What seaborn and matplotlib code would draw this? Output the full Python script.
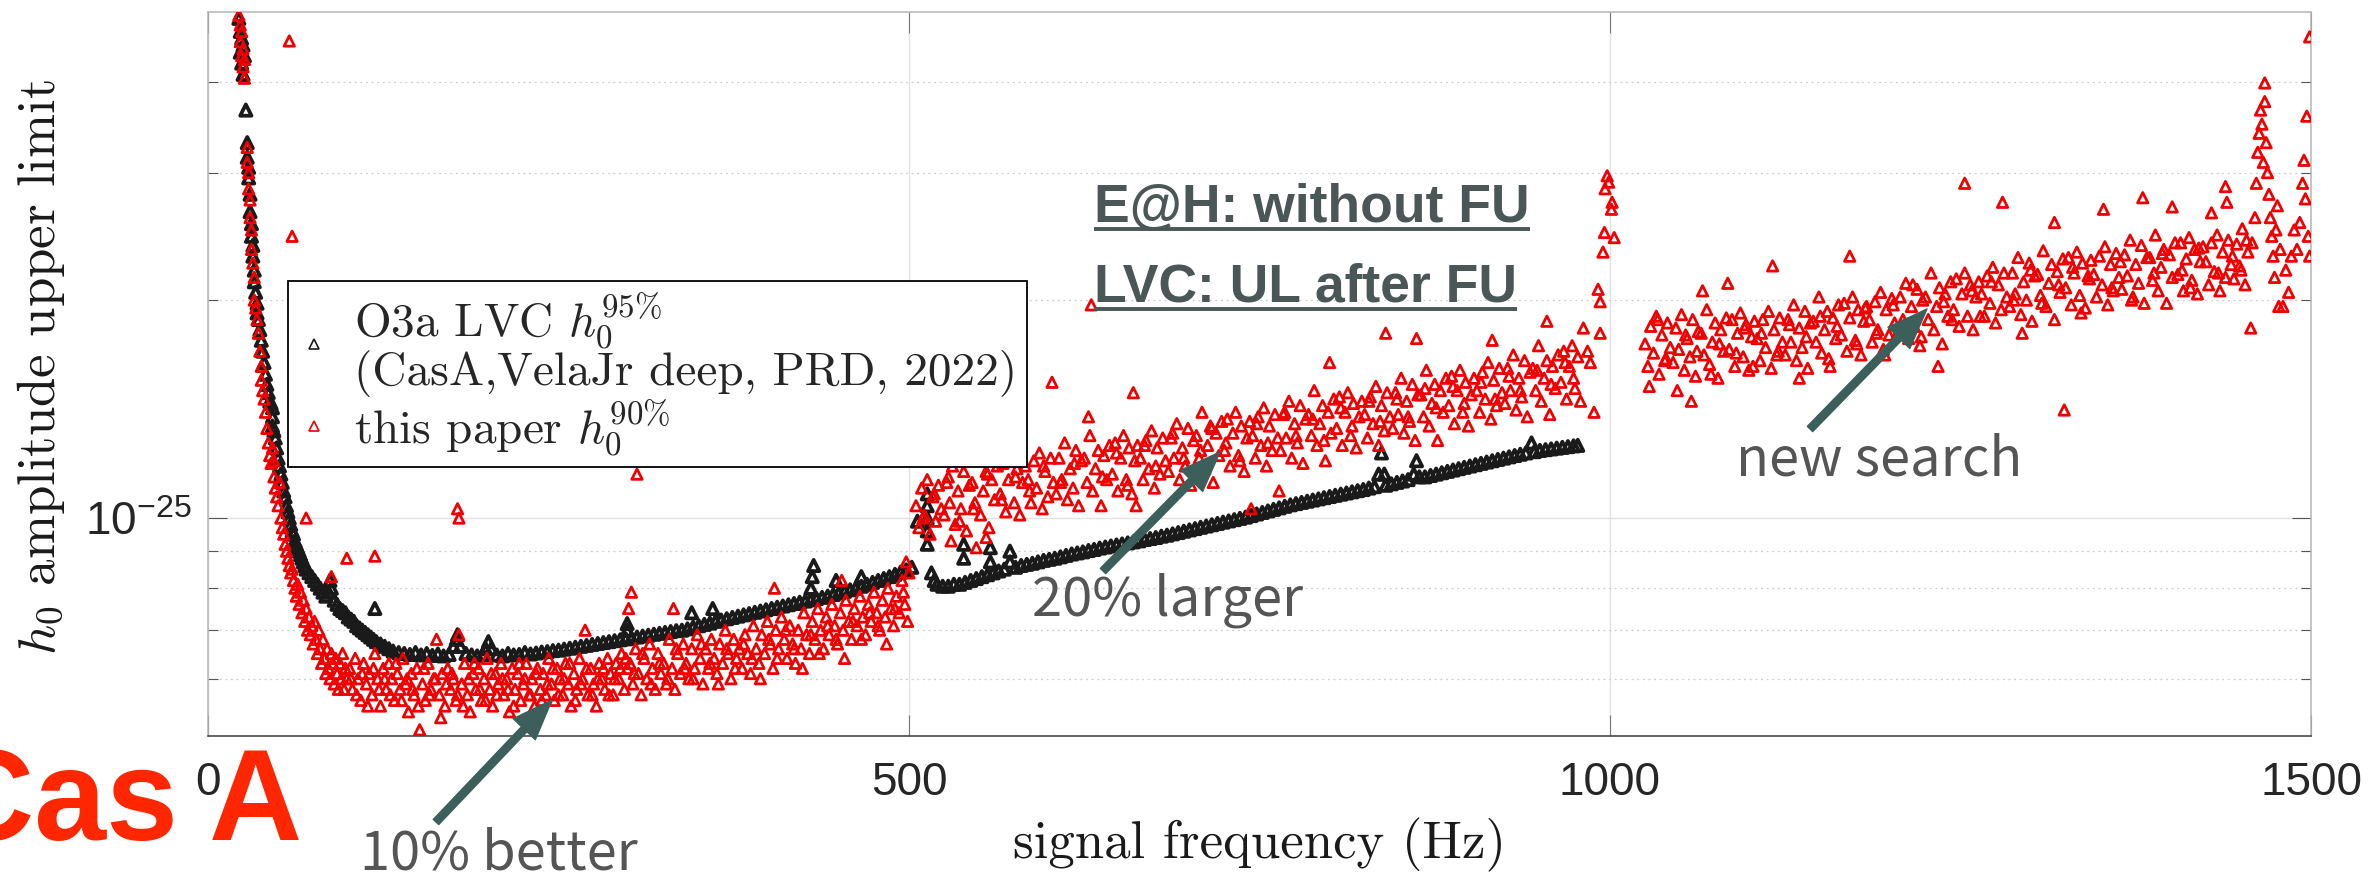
import matplotlib
matplotlib.use("Agg")
import matplotlib.pyplot as plt
import matplotlib.ticker as mticker
from matplotlib.lines import Line2D
import pandas as pd
import seaborn as sns

# ---------------- data (h0 in units of 1e-25, frequency in Hz) ----------------
# O3a LVC h0^95% (black triangles)
lvc_steep = [(22,4.9),(23,4.7),(23,4.4),(24,4.6),(24,4.25),(25,4.5),(25,4.1),(26,4.35),(27,3.66),(28,3.3),(28,3.15),
    (29,3.05),(29,2.95),(30,2.8),(30,2.65),(31,2.55),(31,2.45),(32,2.38),(32,2.3),(33,2.2),(33,2.12),(34,2.05),(35,1.98),
    (35,1.92),(36,1.88),(37,1.82),(38,1.76),(39,1.7),(40,1.64),(41,1.58),(42,1.53),(43,1.49),(44,1.45),(45,1.44),(46,1.42),
    (46,1.38),(46,1.34),(47,1.32),(48,1.29),(49,1.25),(50,1.21),(51,1.18),(52,1.15),(53,1.12),(54,1.09),(55,1.07),(56,1.04),
    (57,1.02),(58,1.0),(59,0.98),(60,0.96),(61,0.95),(62,0.93),(63,0.92),(64,0.91),(65,0.9),(66,0.89),(67,0.88),(68,0.87),
    (69,0.86),(70,0.85),(72,0.84),(74,0.83),(76,0.82),(78,0.81),(80,0.80),(82,0.79),(84,0.78),(86,0.79),(87,0.82),(88,0.8),
    (90,0.77),(92,0.76),(94,0.75),(96,0.745),(98,0.74),(100,0.73),(102,0.725),(104,0.72),(106,0.71),(108,0.705),(110,0.70),
    (112,0.695),(114,0.69),(116,0.685),(118,0.68),(119,0.75),(120,0.675),(123,0.67),(126,0.665),(129,0.66)]
lvc_flat = [(132,0.655),(136,0.652),(140,0.65),(144,0.648),(148,0.652),(152,0.647),(156,0.65),(160,0.646),(164,0.649),
    (168,0.645),(172,0.648),(175,0.665),(177,0.68),(178,0.69),(180,0.665),(184,0.65),(188,0.647),(192,0.645),(196,0.648),
    (198,0.66),(200,0.675),(202,0.66),(206,0.647),(210,0.645),(214,0.65),(218,0.647),(222,0.648),(226,0.652),(230,0.649),
    (234,0.651),(238,0.653),(242,0.654),(246,0.656),(250,0.657),(254,0.659),(258,0.661),(262,0.663),(266,0.665),(270,0.667),
    (274,0.669),(278,0.671),(282,0.673),(286,0.675),(290,0.677),(294,0.679),(298,0.681),(299,0.70),(299,0.715),(302,0.683),
    (306,0.685),(310,0.687),(314,0.689),(318,0.691),(322,0.693),(326,0.695),(330,0.697),(334,0.699),(338,0.70),(342,0.703),
    (345,0.74),(346,0.707),(350,0.71),(354,0.713),(358,0.716),(360,0.75),(362,0.72),(366,0.723),(370,0.726),(374,0.729),
    (378,0.732),(382,0.735),(386,0.738),(390,0.741),(394,0.744),(398,0.747),(402,0.75),(406,0.753),(410,0.756),(414,0.759),
    (418,0.762),(422,0.765),(426,0.768),(430,0.80),(431,0.83),(432,0.86),(430,0.771),(434,0.774),(438,0.777),(442,0.78),
    (446,0.784),(448,0.82),(450,0.788),(454,0.792),(458,0.796),(462,0.80),(466,0.83),(466,0.805),(470,0.81),(474,0.815),
    (478,0.82),(482,0.825),(486,0.83),(490,0.836),(494,0.842),(498,0.848),(502,0.855),(506,0.99),(513,1.08),(513,1.04),
    (513,1.0),(513,0.96),(513,0.92)]
lvc_high = [(516,0.84),(518,0.82),(520,0.81),(524,0.805),(528,0.805),(532,0.81),(536,0.81),(539,0.88),(539,0.92),(540,0.815),
    (544,0.82),(548,0.825),(552,0.83),(556,0.835),(558,0.87),(558,0.91),(560,0.84),(564,0.845),(568,0.85),(572,0.87),(572,0.90),
    (576,0.855),(580,0.86),(584,0.863),(588,0.866),(592,0.87),(596,0.874),(600,0.877),(604,0.88),(608,0.884),(612,0.888),
    (616,0.892),(620,0.895),(624,0.898),(628,0.902),(632,0.905),(636,0.909),(640,0.912),(644,0.915),(648,0.918),(652,0.921),
    (656,0.924),(660,0.927),(664,0.93),(668,0.934),(672,0.937),(676,0.94),(680,0.944),(684,0.947),(688,0.951),(692,0.955),
    (696,0.959),(700,0.963),(704,0.967),(708,0.971),(712,0.975),(716,0.979),(720,0.983),(724,0.987),(728,0.991),(732,0.995),
    (736,0.999),(740,1.003),(744,1.008),(748,1.013),(752,1.018),(756,1.023),(760,1.028),(764,1.033),(768,1.038),(772,1.043),
    (776,1.047),(780,1.051),(784,1.055),(788,1.059),(792,1.063),(796,1.067),(800,1.071),(804,1.075),(808,1.079),(812,1.083),
    (816,1.087),(820,1.091),(824,1.095),(828,1.1),(832,1.105),(835,1.15),(837,1.23),(839,1.15),(840,1.11),(844,1.115),
    (848,1.12),(852,1.125),(856,1.13),(860,1.15),(862,1.2),(864,1.14),(868,1.14),(872,1.145),(876,1.15),(880,1.155),
    (884,1.16),(888,1.165),(892,1.17),(896,1.175),(900,1.18),(904,1.185),(908,1.19),(912,1.195),(916,1.2),(920,1.205),
    (924,1.21),(928,1.215),(932,1.22),(936,1.225),(940,1.23),(944,1.27),(946,1.235),(950,1.24),(954,1.243),(958,1.246),
    (962,1.249),(966,1.252),(970,1.255),(974,1.258),(977,1.26)]

# this paper h0^90% (red triangles)
ours_steep = [(22,4.95),(23,4.8),(23,4.55),(24,4.7),(24,4.35),(25,4.45),(25,4.2),(26,4.3),(26,4.05),(28,3.25),(28,3.1),
    (29,3.0),(29,2.85),(30,2.75),(30,2.6),(31,2.5),(31,2.35),(32,2.25),(33,2.15),(33,2.0),(34,1.95),(35,1.88),(36,1.8),
    (37,1.7),(38,1.62),(38,1.55),(39,1.5),(40,1.46),(41,1.4),(42,1.33),(43,1.27),(44,1.22),(45,1.19),(46,1.25),(47,1.2),
    (47,1.14),(48,1.1),(49,1.07),(50,1.04),(51,1.12),(52,1.0),(53,0.97),(54,0.95),(55,0.92),(56,0.9),(57,0.88),(58,4.56),
    (58,0.86),(59,0.84),(60,2.45),(60,0.85),(61,0.82),(62,0.8),(63,0.78),(64,0.81),(65,0.76),(66,0.79),(67,0.74),(68,0.77),
    (69,0.72),(70,1.0),(70,0.75),(71,0.7),(72,0.73),(73,0.69),(74,0.71),(75,0.67),(76,0.72),(77,0.68),(78,0.65),(79,0.7),
    (80,0.66),(81,0.63),(82,0.68),(83,0.64),(84,0.61),(85,0.66),(86,0.62),(87,0.6),(88,0.83),(88,0.65),(89,0.63),(90,0.59),
    (91,0.64),(92,0.61),(93,0.58),(94,0.63),(95,0.6),(96,0.65),(97,0.58),(98,0.62),(99,0.88),(99,0.6)]
ours_low = [(101,.62),(103,.58),(105,.64),(107,.60),(109,.56),(111,.63),(113,.59),(115,.61),(117,.57),(119,.65),
    (121,.60),(123,.55),(125,.62),(127,.58),(129,.63),(131,.60),(133,.56),(135,.61),(137,.58),(139,.64),
    (141,.59),(143,.54),(145,.61),(147,.57),(149,.62),(151,.51),(153,.59),(155,.56),(157,.63),(159,.58),
    (161,.60),(163,.68),(165,.57),(167,.61),(169,.55),(171,.62),(173,.58),(175,.60),(177,.56),(179,.69),
    (181,.59),(183,.63),(185,.57),(187,.54),(189,.61),(191,.58),(193,.62),(195,.56),(197,.60),(199,.64),
    (201,.58),(203,.55),(205,.61),(207,.59),(209,.63),(211,.57),(213,.60),(215,.54),(217,.62),(219,.58),
    (221,.61),(223,.56),(225,.59),(227,.63),(229,.57),(231,.60),(233,.55),(235,.62),(237,.58),(239,.61),
    (241,.57),(243,.64),(245,.59),(247,.56),(249,.62),(251,.60),(253,.57),(255,.63),(257,.59),(259,.55),
    (261,.61),(263,.58),(265,.64),(267,.60),(269,.70),(271,.57),(273,.62),(275,.59),(277,.55),(279,.63),
    (281,.60),(283,.58),(285,.64),(287,.61),(289,.57),(291,.63),(293,.60),(295,.65),(297,.58),(299,.62),
    (102,.60),(106,.57),(110,.61),(114,.55),(118,.62),(122,.58),(126,.60),(130,.57),(134,.63),(138,.56),
    (142,.60),(146,.58),(150,.55),(154,.62),(158,.57),(162,.60),(166,.53),(170,.59),(174,.61),(178,.57),
    (182,.55),(186,.60),(190,.63),(194,.58),(198,.56),(202,.61),(206,.57),(210,.60),(214,.58),(218,.55),
    (222,.63),(226,.60),(230,.57),(234,.61),(238,.56),(242,.59),(246,.62),(250,.57),(254,.60),(258,.63),
    (262,.56),(266,.59),(270,.62),(274,.57),(278,.60),(282,.62),(286,.57),(290,.60),(294,.62),(298,.64),
    (119,.886),(178,1.03),(179,1.0),(306,1.15),(302,.79),(300,.75)]
ours_mid = [(301,.63),(303,.59),(305,.66),(307,.61),(309,.57),(311,.64),(313,.60),(315,.67),(317,.62),(319,.58),
    (321,.65),(323,.61),(325,.63),(327,.59),(329,.68),(331,.62),(333,.58),(335,.65),(337,.61),(339,.67),
    (341,.63),(343,.60),(345,.66),(347,.62),(349,.69),(351,.64),(353,.59),(355,.66),(357,.62),(359,.68),
    (361,.64),(363,.61),(365,.67),(367,.63),(369,.70),(371,.65),(373,.60),(375,.68),(377,.64),(379,.66),
    (381,.62),(383,.69),(385,.65),(387,.61),(389,.71),(391,.66),(393,.63),(395,.69),(397,.65),(399,.72),
    (401,.67),(403,.62),(405,.70),(407,.66),(409,.73),(411,.68),(413,.64),(415,.71),(417,.67),(419,.63),
    (421,.70),(423,.66),(425,.74),(427,.69),(429,.65),(431,.72),(433,.68),(435,.75),(437,.70),(439,.66),
    (441,.73),(443,.69),(445,.76),(447,.71),(449,.67),(451,.74),(453,.70),(455,.77),(457,.72),(459,.68),
    (461,.75),(463,.71),(465,.78),(467,.73),(469,.69),(471,.76),(473,.72),(475,.79),(477,.74),(479,.70),
    (481,.77),(483,.73),(485,.80),(487,.75),(489,.71),(491,.78),(493,.74),(495,.82),(497,.76),(499,.72),
    (304,.61),(310,.65),(316,.59),(322,.63),(328,.60),(334,.66),(340,.62),(346,.60),(352,.67),(358,.63),
    (364,.59),(370,.66),(376,.62),(382,.67),(388,.64),(394,.60),(400,.68),(406,.64),(412,.70),(418,.66),
    (424,.62),(430,.69),(436,.65),(442,.71),(448,.68),(454,.64),(460,.72),(466,.68),(472,.74),(478,.71),
    (484,.67),(490,.75),(496,.79),(500,.84),(498,.87),(332,.75),(404,.80),(452,.82)]
ours_high = [(505,1.04),(507,0.97),(509,1.10),(511,1.01),(513,1.13),(515,0.95),(517,1.07),(519,0.99),(521,1.11),(523,1.03),
    (525,1.01),(527,1.12),(529,1.05),(531,1.18),(533,0.98),(535,1.09),(537,1.03),(539,1.16),(541,0.96),(543,1.11),
    (545,1.12),(547,1.05),(549,1.21),(551,1.01),(553,1.09),(555,1.16),(557,0.97),(559,1.13),(561,1.06),(563,1.18),
    (565,1.08),(567,1.19),(569,1.02),(571,1.13),(573,1.21),(575,1.05),(577,1.17),(579,1.01),(581,1.12),(583,1.18),
    (585,1.13),(587,1.05),(589,1.20),(591,1.10),(593,1.23),(595,1.03),(597,1.16),(599,1.07),(601,1.21),(603,1.12),
    (605,1.08),(607,1.21),(609,1.13),(611,1.27),(613,1.06),(615,1.17),(617,1.10),(619,1.24),(621,1.04),(623,1.20),
    (625,1.21),(627,1.12),(629,1.30),(631,1.09),(633,1.17),(635,1.24),(637,1.04),(639,1.22),(641,1.13),(643,1.26),
    (645,1.15),(647,1.27),(649,1.09),(651,1.21),(653,1.30),(655,1.13),(657,1.25),(659,1.08),(661,1.20),(663,1.26),
    (665,1.21),(667,1.13),(669,1.28),(671,1.17),(673,1.32),(675,1.10),(677,1.25),(679,1.15),(681,1.29),(683,1.20),
    (685,1.16),(687,1.29),(689,1.21),(691,1.35),(693,1.13),(695,1.25),(697,1.18),(699,1.33),(701,1.11),(703,1.28),
    (705,1.30),(707,1.21),(709,1.40),(711,1.17),(713,1.26),(715,1.34),(717,1.12),(719,1.31),(721,1.22),(723,1.36),
    (725,1.24),(727,1.37),(729,1.18),(731,1.31),(733,1.40),(735,1.22),(737,1.34),(739,1.16),(741,1.29),(743,1.36),
    (745,1.30),(747,1.21),(749,1.38),(751,1.26),(753,1.42),(755,1.18),(757,1.34),(759,1.24),(761,1.39),(763,1.29),
    (765,1.24),(767,1.39),(769,1.29),(771,1.45),(773,1.21),(775,1.35),(777,1.27),(779,1.43),(781,1.19),(783,1.37),
    (785,1.39),(787,1.30),(789,1.50),(791,1.26),(793,1.35),(795,1.43),(797,1.20),(799,1.40),(801,1.31),(803,1.46),
    (805,1.33),(807,1.47),(809,1.26),(811,1.40),(813,1.49),(815,1.30),(817,1.44),(819,1.25),(821,1.38),(823,1.45),
    (825,1.39),(827,1.29),(829,1.47),(831,1.35),(833,1.52),(835,1.26),(837,1.43),(839,1.32),(841,1.49),(843,1.38),
    (845,1.33),(847,1.49),(849,1.39),(851,1.56),(853,1.31),(855,1.45),(857,1.36),(859,1.53),(861,1.28),(863,1.48),
    (865,1.48),(867,1.38),(869,1.60),(871,1.34),(873,1.44),(875,1.53),(877,1.28),(879,1.50),(881,1.40),(883,1.56),
    (885,1.43),(887,1.57),(889,1.35),(891,1.50),(893,1.60),(895,1.40),(897,1.54),(899,1.34),(901,1.48),(903,1.56),
    (905,1.50),(907,1.40),(909,1.59),(911,1.46),(913,1.64),(915,1.37),(917,1.55),(919,1.43),(921,1.61),(923,1.49),
    (925,1.44),(927,1.61),(929,1.50),(931,1.68),(933,1.41),(935,1.56),(937,1.47),(939,1.65),(941,1.38),(943,1.59),
    (945,1.61),(947,1.50),(949,1.73),(951,1.45),(953,1.56),(955,1.65),(957,1.39),(959,1.62),(961,1.51),(963,1.68),
    (965,1.54),(967,1.70),(969,1.46),(971,1.62),(973,1.73),(975,1.51),(977,1.67),(979,1.45),
    (510,1.00),(518,1.08),(528,1.14),(530,0.93),(536,0.99),(546,1.03),(548,0.91),(555,0.94),(556,1.15),(566,1.06),
    (576,1.14),(586,1.09),(596,1.18),(602,1.54),(608,1.12),(618,1.19),(628,1.38),(630,1.97),(638,1.14),(648,1.23),
    (656,1.11),(660,1.49),(662,1.04),(668,1.26),(676,1.18),(688,1.31),(696,1.21),(708,1.24),(716,1.33),(726,1.27),
    (736,1.20),(744,1.03),(748,1.35),(756,1.27),(764,1.09),(768,1.40),(776,1.30),(788,1.37),(796,1.28),(800,1.64),
    (808,1.42),(816,1.34),(828,1.45),(836,1.36),(840,1.80),(848,1.46),(856,1.38),(862,1.77),(868,1.51),(876,1.42),
    (888,1.52),(896,1.44),(908,1.54),(916,1.76),(918,1.46),(928,1.57),(936,1.50),(948,1.60),(955,1.87),(958,1.53),
    (968,1.64),(974,1.56)]
ours_peak1k = [(981,1.83),(984,1.7),(986,1.64),(988.6,1.40),(991.5,2.07),(993,1.99),(993,1.80),(995,2.33),(996,2.48),
    (996.5,2.85),(998,2.97),(999,2.91),(1001,2.67),(1001.5,2.73),(1003,2.44)]
ours_new = [(1025,1.74),(1027,1.62),(1029,1.84),(1031,1.69),(1033,1.90),(1035,1.58),(1037,1.79),(1039,1.65),(1041,1.86),(1043,1.72),
    (1045,1.64),(1047,1.83),(1049,1.71),(1051,1.91),(1053,1.60),(1055,1.77),(1057,1.67),(1059,1.88),(1061,1.57),(1063,1.81),
    (1065,1.80),(1067,1.68),(1069,1.94),(1071,1.63),(1073,1.75),(1075,1.86),(1077,1.56),(1079,1.82),(1081,1.70),(1083,1.89),
    (1085,1.71),(1087,1.88),(1089,1.62),(1091,1.80),(1093,1.92),(1095,1.67),(1097,1.85),(1099,1.60),(1101,1.78),(1103,1.87),
    (1105,1.77),(1107,1.65),(1109,1.88),(1111,1.72),(1113,1.93),(1115,1.61),(1117,1.82),(1119,1.68),(1121,1.89),(1123,1.75),
    (1125,1.68),(1127,1.88),(1129,1.75),(1131,1.97),(1133,1.65),(1135,1.83),(1137,1.72),(1139,1.93),(1141,1.61),(1143,1.86),
    (1145,1.87),(1147,1.75),(1149,2.02),(1151,1.69),(1153,1.82),(1155,1.93),(1157,1.62),(1159,1.89),(1161,1.77),(1163,1.97),
    (1165,1.79),(1167,1.98),(1169,1.70),(1171,1.89),(1173,2.02),(1175,1.76),(1177,1.94),(1179,1.68),(1181,1.87),(1183,1.96),
    (1185,1.88),(1187,1.75),(1189,1.99),(1191,1.82),(1193,2.05),(1195,1.71),(1197,1.94),(1199,1.79),(1201,2.01),(1203,1.86),
    (1205,1.80),(1207,2.02),(1209,1.88),(1211,2.11),(1213,1.77),(1215,1.96),(1217,1.84),(1219,2.07),(1221,1.73),(1223,2.00),
    (1225,2.02),(1227,1.88),(1229,2.18),(1231,1.82),(1233,1.96),(1235,2.08),(1237,1.74),(1239,2.04),(1241,1.90),(1243,2.12),
    (1245,1.94),(1247,2.14),(1249,1.84),(1251,2.04),(1253,2.18),(1255,1.90),(1257,2.10),(1259,1.82),(1261,2.02),(1263,2.12),
    (1265,2.04),(1267,1.90),(1269,2.16),(1271,1.98),(1273,2.22),(1275,1.86),(1277,2.10),(1279,1.94),(1281,2.18),(1283,2.02),
    (1285,1.96),(1287,2.18),(1289,2.04),(1291,2.29),(1293,1.91),(1295,2.12),(1297,2.00),(1299,2.25),(1301,1.87),(1303,2.16),
    (1305,2.17),(1307,2.03),(1309,2.34),(1311,1.96),(1313,2.11),(1315,2.24),(1317,1.88),(1319,2.19),(1321,2.05),(1323,2.28),
    (1325,2.08),(1327,2.29),(1329,1.97),(1331,2.18),(1333,2.33),(1335,2.03),(1337,2.25),(1339,1.95),(1341,2.16),(1343,2.27),
    (1345,2.17),(1347,2.02),(1349,2.30),(1351,2.10),(1353,2.37),(1355,1.97),(1357,2.24),(1359,2.06),(1361,2.32),(1363,2.15),
    (1365,2.07),(1367,2.31),(1369,2.16),(1371,2.42),(1373,2.02),(1375,2.24),(1377,2.11),(1379,2.38),(1381,1.98),(1383,2.29),
    (1385,2.29),(1387,2.13),(1389,2.46),(1391,2.06),(1393,2.22),(1395,2.35),(1397,1.98),(1399,2.31),(1401,2.15),(1403,2.40),
    (1405,2.17),(1407,2.40),(1409,2.06),(1411,2.28),(1413,2.44),(1415,2.13),(1417,2.35),(1419,2.04),(1421,2.26),(1423,2.37),
    (1425,2.26),(1427,2.10),(1429,2.40),(1431,2.19),(1433,2.46),(1435,2.06),(1437,2.33),(1439,2.15),(1441,2.42),(1443,2.24),
    (1445,2.14),(1447,2.39),(1449,2.23),(1451,2.51),(1453,2.10),(1455,2.33),
    (1028,1.52),(1034,1.88),(1040,1.66),(1048,1.50),(1054,1.79),(1058,1.45),(1062,1.70),(1066,2.06),(1072,1.58),(1078,1.74),
    (1084,2.11),(1090,1.69),(1096,1.83),(1102,1.62),(1108,1.80),(1116,2.23),(1120,1.70),(1128,1.85),(1135,1.56),(1140,1.78),
    (1150,1.90),(1156,1.66),(1162,1.84),(1171,2.30),(1176,1.74),(1182,1.95),(1190,1.80),(1196,1.68),(1202,1.97),(1210,1.85),
    (1216,2.10),(1222,1.78),(1234,1.62),(1238,1.99),(1244,1.88),(1253,2.90),(1258,2.06),(1264,1.90),(1272,2.12),(1280,2.73),
    (1288,2.00),(1294,1.80),(1300,2.20),(1308,1.98),(1317,2.56),(1320,2.10),(1324,1.41),(1330,2.22),(1336,1.92),(1342,2.14),
    (1352,2.67),(1358,2.08),(1364,2.26),(1372,2.00),(1380,2.77),(1388,2.18),(1394,2.32),(1401,2.69),(1408,2.20),(1414,2.08),
    (1420,2.36),(1429,2.64),(1434,2.18),(1439,2.87),(1440,2.73),(1444,2.30),(1450,2.20),(1454,2.42)]
ours_peak15 = [(1457,1.83),(1458,2.40),(1460,2.6),(1461,2.9),(1462,3.2),(1463,3.4),(1464,3.66),(1465,3.5),(1466,3.1),
    (1467,3.99),(1467,3.76),(1468,3.3),(1469,3.0),(1470,2.8),(1471,2.6),(1472,2.45),(1473,2.3),(1474,2.15),(1475,2.5),
    (1476,2.7),(1477,1.96),(1478,2.35),(1480,1.96),(1482,2.2),(1484,2.05),(1486,2.3),(1488,2.5),(1490,2.35),(1492,2.56),
    (1494,2.9),(1495,3.12),(1496,2.76),(1497,3.59),(1498,2.45),(1499,4.62),(1499,2.3)]

x_ticks = [0, 500, 1000, 1500]
x_ticklabels = ["0", "500", "1000", "1500"]
legend_labels = ["O3a LVC $h_0^{95\\%}$\n(CasA,VelaJr deep, PRD, 2022)", "this paper $h_0^{90\\%}$"]

# ---------------- figure ----------------
sns.set_style("white")
plt.rcParams["font.family"] = ["Liberation Sans", "DejaVu Sans"]
plt.rcParams["mathtext.fontset"] = "cm"

W, H = 2369, 873
fig = plt.figure(figsize=(W / 100, H / 100), dpi=100)
AX_L, AX_R, AX_T, AX_B = 208, 2311, 12, 736
ax = fig.add_axes([AX_L / W, 1 - AX_B / H, (AX_R - AX_L) / W, (AX_B - AX_T) / H])

lvc = pd.DataFrame(lvc_steep + lvc_flat + lvc_high, columns=["f", "h"])
lvc["h"] = lvc["h"] * 1e-25
ours = pd.DataFrame(ours_steep + ours_low + ours_mid + ours_high + ours_peak1k + ours_new + ours_peak15,
                    columns=["f", "h"])
ours["h"] = ours["h"] * 1e-25

BLACK = "#1a1a1a"
RED = "#f00000"
sns.scatterplot(data=lvc, x="f", y="h", marker="^", s=66, facecolors="none", edgecolor=BLACK,
                linewidth=2.7, ax=ax, zorder=3, legend=False)
sns.scatterplot(data=ours, x="f", y="h", marker="^", s=56, facecolors="none", edgecolor=RED,
                linewidth=2.0, ax=ax, zorder=4, legend=False)

ax.set_yscale("log")
ax.set_xlim(0, 1500)
ax.set_ylim(5e-26, 5e-25)
ax.set_xticks(x_ticks)
ax.set_xticklabels(x_ticklabels)
ax.yaxis.set_major_locator(mticker.FixedLocator([1e-25]))
ax.yaxis.set_major_formatter(mticker.FixedFormatter([r"$\mathregular{10^{-25}}$"]))
ax.yaxis.set_minor_locator(mticker.FixedLocator([6e-26, 7e-26, 8e-26, 9e-26, 2e-25, 3e-25, 4e-25]))
ax.yaxis.set_minor_formatter(mticker.NullFormatter())

ax.set_axisbelow(True)
ax.grid(True, which="major", axis="both", color="#e2e2e2", lw=1.0, ls="-")
ax.grid(True, which="minor", axis="y", color="#cccccc", lw=0.9, ls=(0, (1.5, 3)))

for side in ["left", "top", "right"]:
    ax.spines[side].set_color("#b5b5b5")
    ax.spines[side].set_linewidth(1.1)
ax.spines["bottom"].set_color("#3a3a3a")
ax.spines["bottom"].set_linewidth(1.1)

ax.tick_params(axis="x", which="major", direction="in", length=15, width=0.8, color="#777777",
               top=True, bottom=True, labelsize=33, pad=18, labelcolor="#262626")
ax.tick_params(axis="y", which="major", direction="in", length=14, width=0.8, color="#555555",
               left=True, right=True, labelsize=33, pad=11.5, labelcolor="#262626")
ax.tick_params(axis="y", which="minor", direction="in", length=7, width=0.8, color="#555555",
               left=True, right=True)

ax.set_xlabel("signal frequency (Hz)", fontfamily="cmr10", fontsize=38, color="#1a1a1a")
ax.xaxis.set_label_coords(0.5, (AX_B - 818) / (AX_B - AX_T))
ax.set_ylabel(r"$h_0$ amplitude upper limit", fontfamily="cmr10", fontsize=38, color="#1a1a1a")
ax.yaxis.set_label_coords((67 - AX_L) / (AX_R - AX_L), 0.51)

handles = [Line2D([], [], ls="none", marker="^", markersize=6.5, markerfacecolor="none",
                  markeredgecolor=BLACK, markeredgewidth=1.2),
           Line2D([], [], ls="none", marker="^", markersize=6.5, markerfacecolor="none",
                  markeredgecolor=RED, markeredgewidth=1.2)]
leg = ax.legend(handles, legend_labels, loc="upper left",
                bbox_to_anchor=((288 - AX_L) / (AX_R - AX_L), (AX_B - 281) / (AX_B - AX_T)),
                bbox_transform=ax.transAxes, prop={"family": "cmr10", "size": 34},
                frameon=True, fancybox=False, framealpha=1, edgecolor="black",
                borderpad=0.2, handlelength=0.7, handletextpad=0.5, labelspacing=0.0,
                borderaxespad=0)
for t in leg.get_texts():
    t.set_linespacing(1.0)
leg.get_frame().set_linewidth(1.3)
leg.set_zorder(10)

# ---------------- annotations ----------------
def fx(px):
    return px / W

def fy(py):
    return 1 - py / H

fig.text(fx(302), fy(840), "Cas A", ha="right", va="baseline", fontsize=93, fontweight="bold",
         color="#ff2600", family=["Liberation Sans", "DejaVu Sans"], zorder=20)

GRAY = "#555555"
CJK = ["Noto Sans CJK SC", "DejaVu Sans"]
fig.text(fx(360), fy(870), "10% better", ha="left", va="baseline", fontsize=39, color=GRAY, family=CJK)
fig.text(fx(1032), fy(615), "20% larger", ha="left", va="baseline", fontsize=39, color=GRAY, family=CJK)
fig.text(fx(1736), fy(476), "new search", ha="left", va="baseline", fontsize=39, color=GRAY, family=CJK)

SLATE = "#4b5656"
t1 = fig.text(fx(1094), fy(222), "E@H: without FU", ha="left", va="baseline", fontsize=38.5,
              fontweight="bold", color=SLATE, family=["Liberation Sans", "DejaVu Sans"])
t2 = fig.text(fx(1094), fy(302), "LVC: UL after FU", ha="left", va="baseline", fontsize=38.5,
              fontweight="bold", color=SLATE, family=["Liberation Sans", "DejaVu Sans"])

ARROW = "#3d5f5b"
for tail, tip in [((436, 822), (552, 700)), ((1103, 571), (1220, 452)), ((1810, 429), (1927, 309))]:
    ax.annotate("", xy=(tip[0], H - tip[1]), xytext=(tail[0], H - tail[1]),
                xycoords="figure pixels", textcoords="figure pixels",
                arrowprops=dict(arrowstyle="simple,head_length=1.45,head_width=1.1,tail_width=0.27",
                                color=ARROW, shrinkA=0, shrinkB=0, mutation_scale=20),
                zorder=30, annotation_clip=False)

fig.canvas.draw()
renderer = fig.canvas.get_renderer()
for t, base in [(t1, 222), (t2, 302)]:
    bb = t.get_window_extent(renderer)
    yline = fy(base + 7)
    fig.add_artist(Line2D([bb.x0 / W, bb.x1 / W], [yline, yline], transform=fig.transFigure,
                          color=SLATE, lw=2.8, solid_capstyle="butt"))

fig.savefig("out.png", dpi=100)
